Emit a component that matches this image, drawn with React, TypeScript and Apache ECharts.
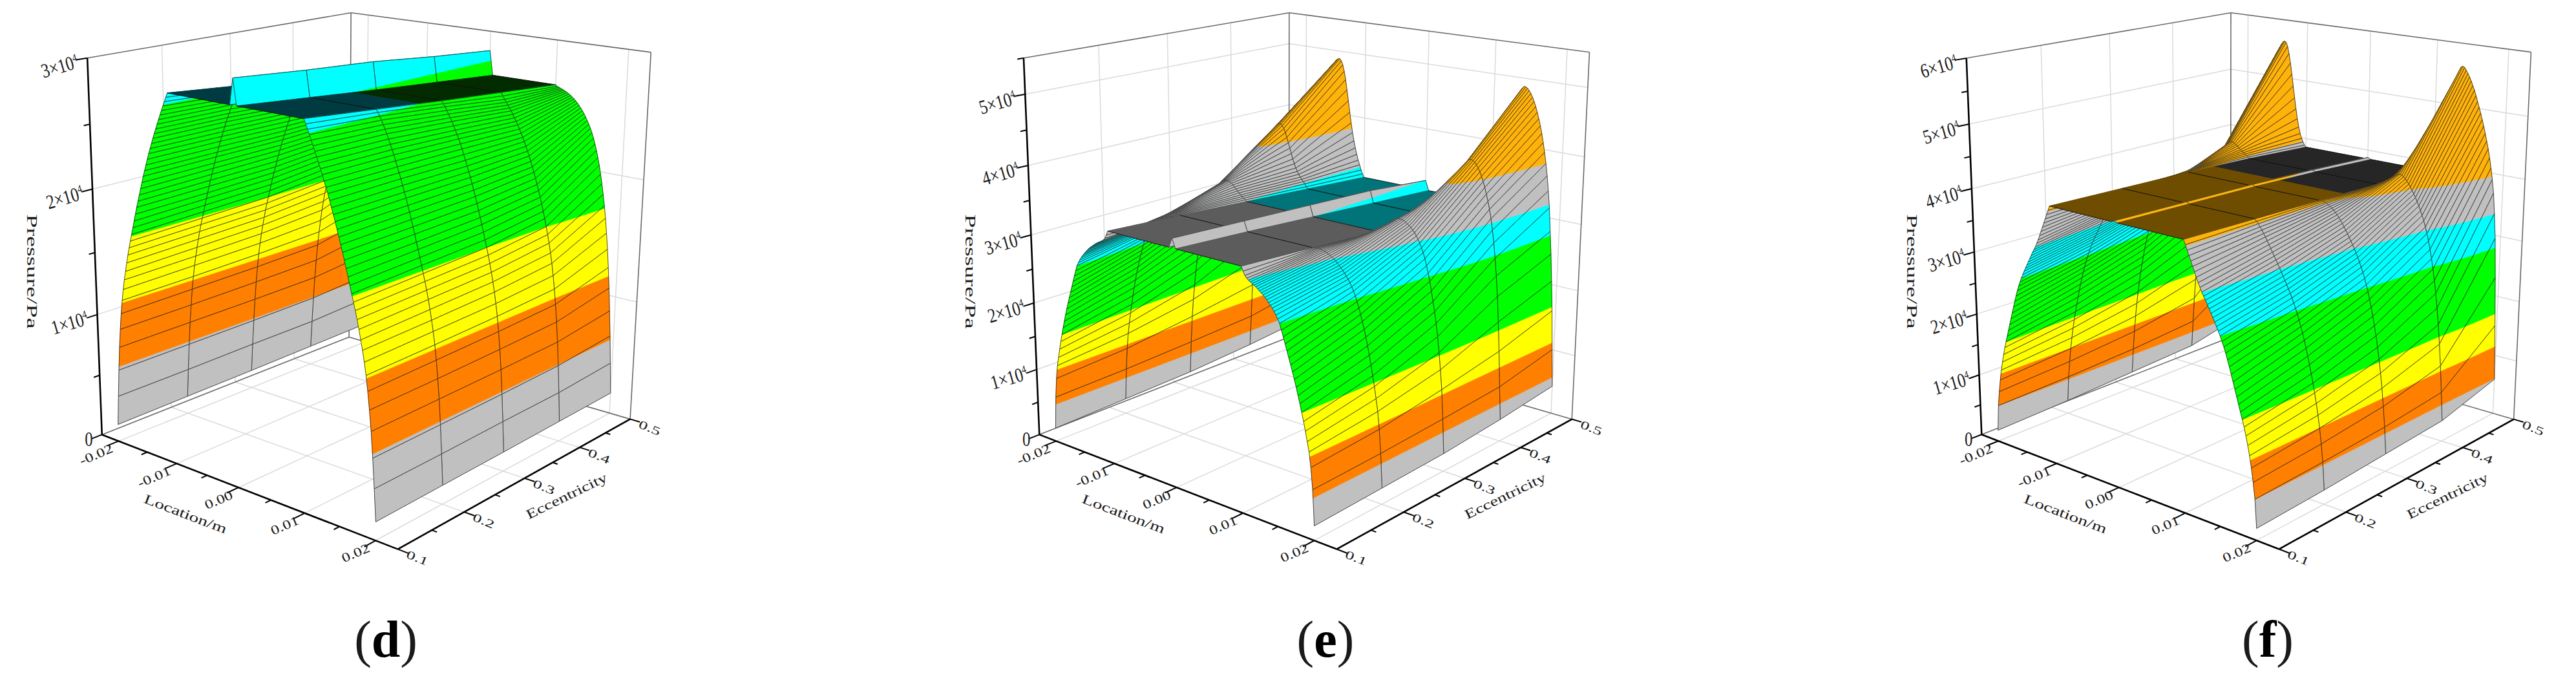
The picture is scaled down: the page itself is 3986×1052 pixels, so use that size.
import React, { useEffect, useRef } from "react";
import * as echarts from "echarts";

const WIDTH = 3986;
const HEIGHT = 1052;
const SERIF = "'Liberation Serif', 'DejaVu Serif', serif";

// distance from the bearing edge (m), one half of the symmetric profile
const edgeDistance = [0, 0.00025, 0.0005, 0.00075, 0.001, 0.00125, 0.0015, 0.00175, 0.002, 0.00225, 0.0025, 0.00275, 0.003, 0.00325, 0.0035, 0.00375, 0.004, 0.00425, 0.0045, 0.00475, 0.005, 0.00525, 0.0055, 0.00575, 0.006, 0.00625, 0.0065, 0.00675, 0.007, 0.00725, 0.0075, 0.00775, 0.008, 0.00825, 0.0085, 0.00875, 0.009, 0.00925, 0.0095, 0.00975, 0.01, 0.0195, 0.02];

const locationTicks = [-0.02, -0.01, 0, 0.01, 0.02];
const locationMinor = [-0.015, -0.005, 0.005, 0.015];
const locationLabels = ["-0.02", "-0.01", "0.00", "0.01", "0.02"];
const eccTicks = [0.1, 0.2, 0.3, 0.4, 0.5];
const eccMinor = [0.15, 0.25, 0.35, 0.45];
const eccLabels = ["0.1", "0.2", "0.3", "0.4", "0.5"];

// panel (d) pressure in Pa
const dEcc1 = [1400, 3800, 6000, 7900, 9400, 10700, 11800, 12700, 13500, 14200, 14900, 15550, 16150, 16700, 17250, 17800, 18350, 18900, 19450, 19950, 20450, 20950, 21450, 21950, 22400, 22850, 23300, 23750, 24150, 24550, 24950, 25330, 25700, 26070, 26430, 26790, 27140, 27490, 27830, 28170, 28500];
const dEcc2 = [1480, 3850, 6050, 7950, 9450, 10800, 11900, 12850, 13650, 14400, 15100, 15750, 16350, 16900, 17450, 18000, 18550, 19050, 19600, 20100, 20600, 21100, 21550, 22050, 22450, 22900, 23350, 23750, 24150, 24550, 24950, 25300, 25650, 26000, 26350, 26650, 26950, 27250, 27500, 27750, 27950];
const dEcc3 = [1550, 3950, 6100, 8000, 9550, 10900, 12050, 13000, 13850, 14600, 15300, 15950, 16550, 17100, 17650, 18200, 18750, 19250, 19750, 20250, 20750, 21200, 21650, 22100, 22500, 22900, 23300, 23700, 24100, 24450, 24800, 25100, 25400, 25700, 26000, 26250, 26500, 26750, 27000, 27200, 27400];
const dEcc4 = [1650, 4000, 6200, 8100, 9700, 11100, 12300, 13350, 14300, 15100, 15850, 16500, 17100, 17700, 18250, 18800, 19300, 19800, 20250, 20700, 21150, 21550, 21950, 22350, 22700, 23050, 23400, 23700, 24000, 24300, 24600, 24850, 25100, 25350, 25600, 25800, 26000, 26200, 26400, 26650, 26900];
const dEcc5 = [1750, 4300, 6600, 8700, 10600, 12300, 13800, 15100, 16300, 17300, 18200, 19050, 19800, 20500, 21100, 21650, 22150, 22600, 23000, 23350, 23650, 23930, 24190, 24430, 24650, 24850, 25030, 25200, 25350, 25490, 25610, 25720, 25820, 25910, 25990, 26060, 26120, 26180, 26240, 26300, 26400];
const dRidge = [30400, 29900, 29500, 28900, 28400];
const dLevels = [6300, 11600, 17100, 27600, 40000];

// panel (e) pressure in Pa
const eEcc1 = [2000, 6800, 9700, 11700, 13000, 14300, 15500, 16600, 17700, 18700, 19700, 20650, 21550, 22400, 23250, 24100, 24950, 25800, 26600, 27400, 27900, 28350, 28750, 29100, 29400, 29700, 30000, 30250, 30500, 30700, 30900, 31100, 31300, 31450, 31600, 31750, 31900, 32100, 32400, 32900, 33500];
const eEcc2 = [2300, 7100, 10400, 12800, 14500, 16100, 17500, 18900, 20200, 21400, 22500, 23500, 24500, 25400, 26200, 27000, 27700, 28300, 28800, 29300, 29700, 30050, 30400, 30700, 31000, 31250, 31500, 31750, 31950, 32150, 32300, 32450, 32580, 32680, 32750, 32800, 32830, 32840, 32830, 32820, 32800];
const eEcc3 = [2600, 7600, 11800, 14600, 17000, 19200, 21000, 22600, 24000, 25400, 26700, 27800, 28800, 29700, 30500, 31100, 31700, 32200, 32600, 33000, 33300, 33600, 33800, 34000, 34200, 34350, 34450, 34500, 34500, 34400, 34250, 34050, 33800, 33550, 33300, 33050, 32800, 32600, 32400, 32200, 32000];
const eEcc4 = [3300, 8200, 13500, 17800, 21500, 24500, 27000, 29200, 31000, 32600, 33900, 35000, 36000, 36900, 37700, 38400, 39000, 39500, 39900, 40200, 40400, 40500, 40500, 40300, 39900, 39300, 38600, 37800, 37000, 36200, 35400, 34700, 34100, 33600, 33200, 32800, 32500, 32200, 31900, 31500, 31200];
const eEcc5 = [4300, 10000, 16000, 20500, 24600, 28000, 31500, 34000, 36200, 38000, 39600, 41000, 42300, 43400, 44400, 45300, 46100, 46800, 47400, 47900, 48300, 48600, 48750, 48800, 48500, 47900, 46900, 45600, 44000, 42300, 40500, 38800, 37300, 36000, 34900, 33900, 33000, 32300, 31500, 30900, 30400];
const eRidge = [34800, 34200, 33600, 33000, 31900];
const eLevels = [5700, 11100, 16600, 27400, 32000, 38000];

// panel (f) pressure in Pa
const fEcc1 = [1800, 6000, 8400, 10400, 12100, 13500, 14800, 16000, 17000, 18000, 19000, 20000, 21000, 22000, 23000, 24000, 24900, 25800, 26600, 27300, 28000, 28600, 29200, 29750, 30300, 30850, 31400, 31950, 32500, 33000, 33500, 34100, 34700, 35400, 36100, 36800, 37500, 38200, 38900, 39600, 40300];
const fEcc2 = [2200, 6400, 9100, 11400, 13300, 15000, 16500, 17900, 19200, 20500, 21700, 22800, 23900, 24900, 25800, 26700, 27500, 28300, 29000, 29700, 30300, 30900, 31450, 32000, 32550, 33100, 33650, 34200, 34700, 35200, 35700, 36200, 36700, 37200, 37700, 38150, 38600, 39000, 39400, 39700, 40000];
const fEcc3 = [2800, 7000, 10200, 13000, 15300, 17400, 19200, 20900, 22400, 23800, 25100, 26300, 27400, 28400, 29300, 30150, 30900, 31600, 32250, 32850, 33450, 34000, 34500, 35000, 35500, 36000, 36450, 36900, 37300, 37700, 38050, 38350, 38650, 38900, 39100, 39300, 39450, 39550, 39650, 39700, 39700];
const fEcc4 = [3400, 8000, 12300, 15800, 18900, 21500, 23800, 25800, 27600, 29200, 30600, 31900, 33000, 34000, 34900, 35700, 36400, 37100, 37700, 38300, 38800, 39300, 39800, 40200, 40600, 40900, 41200, 41400, 41500, 41450, 41300, 41100, 40900, 40650, 40400, 40200, 40000, 39800, 39600, 39400, 39200];
const fEcc5 = [5900, 15000, 23000, 29500, 33500, 36800, 39000, 40800, 42400, 43800, 45000, 46200, 47300, 48300, 49300, 50200, 51100, 52000, 52800, 53500, 54200, 54800, 55300, 55800, 56200, 56350, 56200, 55500, 54300, 52700, 50800, 48800, 46800, 44900, 43200, 41800, 40700, 39900, 39300, 38800, 38500];
const fRidge = [40500, 40200, 39900, 39400, 38750];
const fLevels = [6000, 11500, 17000, 28000, 33500, 39500];

const bandColors = ["#c0c0c0", "#ff8000", "#ffff00", "#00ff00", "#00ffff", "#c0c0c0", "#ffb30a"];
const dDark = ["#c0c0c0", "#ff8000", "#ffff00", "#032b00", "#013b42", "#4f4f4f", "#6e4d00"];
const eDark = ["#c0c0c0", "#ff8000", "#ffff00", "#00ff00", "#007478", "#5c5c5c", "#6e4d00"];
const fDark = ["#c0c0c0", "#ff8000", "#ffff00", "#00ff00", "#007478", "#262626", "#6e4d00"];

type Pt = [number, number];

const panels = [
  {
    name: "d", walls: [dEcc1, dEcc2, dEcc3, dEcc4, dEcc5], ridge: dRidge, levels: dLevels, dark: dDark,
    zMax: 30000, zMajor: [0, 10000, 20000, 30000], zMinor: [5000, 15000, 25000],
    zLabels: ["0", "1×10{s|4}", "2×10{s|4}", "3×10{s|4}"], labelX: 597,
    A: [157, 677] as Pt, B: [616.6, 845] as Pt, C: [974, 654] as Pt, D: [541, 516] as Pt,
    Az: [135, 89] as Pt, Cz: [1007.5, 79] as Pt, Dz: [543, 22] as Pt,
  },
  {
    name: "e", walls: [eEcc1, eEcc2, eEcc3, eEcc4, eEcc5], ridge: eRidge, levels: eLevels, dark: eDark,
    zMax: 55000, zMajor: [0, 10000, 20000, 30000, 40000, 50000], zMinor: [5000, 15000, 25000, 35000, 45000, 55000],
    zLabels: ["0", "1×10{s|4}", "2×10{s|4}", "3×10{s|4}", "4×10{s|4}", "5×10{s|4}"], labelX: 2051,
    A: [1608.5, 677] as Pt, B: [2069, 845] as Pt, C: [2432, 654] as Pt, D: [1994, 516] as Pt,
    Az: [1583, 89] as Pt, Cz: [2459, 79] as Pt, Dz: [1996, 22] as Pt,
  },
  {
    name: "f", walls: [fEcc1, fEcc2, fEcc3, fEcc4, fEcc5], ridge: fRidge, levels: fLevels, dark: fDark,
    zMax: 60000, zMajor: [0, 10000, 20000, 30000, 40000, 50000, 60000], zMinor: [5000, 15000, 25000, 35000, 45000, 55000],
    zLabels: ["0", "1×10{s|4}", "2×10{s|4}", "3×10{s|4}", "4×10{s|4}", "5×10{s|4}", "6×10{s|4}"], labelX: 3509,
    A: [3066, 677] as Pt, B: [3527, 845] as Pt, C: [3889, 654] as Pt, D: [3452, 516] as Pt,
    Az: [3042.5, 89] as Pt, Cz: [3916.6, 79] as Pt, Dz: [3452, 22] as Pt,
  },
];

const LOC_EDGE = 0.023;

function solve(M: number[][], b: number[]) {
  const n = b.length;
  const a = M.map((r, i) => [...r, b[i]]);
  for (let c = 0; c < n; c++) {
    let piv = c;
    for (let r = c + 1; r < n; r++) if (Math.abs(a[r][c]) > Math.abs(a[piv][c])) piv = r;
    [a[c], a[piv]] = [a[piv], a[c]];
    for (let r = 0; r < n; r++) {
      if (r === c) continue;
      const f = a[r][c] / a[c][c];
      for (let k = c; k <= n; k++) a[r][k] -= f * a[c][k];
    }
  }
  return a.map((r, i) => r[n] / r[i]);
}

// camera fitted to the seven visible corners of the axis box
function fitCamera(p: (typeof panels)[number]) {
  const ox = p.A[0];
  const pts: [number, number, number, Pt][] = [
    [0, 0, 0, p.A], [1, 0, 0, p.B], [1, 1, 0, p.C], [0, 1, 0, p.D],
    [0, 0, 1, p.Az], [1, 1, 1, p.Cz], [0, 1, 1, p.Dz],
  ];
  const rows: number[][] = [];
  const rhs: number[] = [];
  for (const [X, Y, Z, [px, py]] of pts) {
    const x = px - ox;
    rows.push([X, Y, Z, 1, 0, 0, 0, 0, -x * X, -x * Y, -x * Z]); rhs.push(x);
    rows.push([0, 0, 0, 0, X, Y, Z, 1, -py * X, -py * Y, -py * Z]); rhs.push(py);
  }
  const n = 11;
  const N = Array.from({ length: n }, () => new Array(n).fill(0));
  const t = new Array(n).fill(0);
  rows.forEach((r, i) => {
    for (let a = 0; a < n; a++) {
      t[a] += r[a] * rhs[i];
      for (let b = 0; b < n; b++) N[a][b] += r[a] * r[b];
    }
  });
  const m = solve(N, t);
  return (u: number, v: number, w: number): Pt => {
    const d = m[8] * u + m[9] * v + m[10] * w + 1;
    return [
      (m[0] * u + m[1] * v + m[2] * w + m[3]) / d + ox,
      (m[4] * u + m[5] * v + m[6] * w + m[7]) / d,
    ];
  };
}

const uOf = (loc: number) => (loc + LOC_EDGE) / (2 * LOC_EDGE);
const vOf = (ecc: number) => (ecc - 0.1) / 0.4;

type P3 = [number, number, number];

function clipBelow(poly: P3[], limit: number, keepBelow: boolean): P3[] {
  const out: P3[] = [];
  const inside = (q: P3) => (keepBelow ? q[2] <= limit : q[2] >= limit);
  for (let i = 0; i < poly.length; i++) {
    const a = poly[i];
    const b = poly[(i + 1) % poly.length];
    const ia = inside(a);
    const ib = inside(b);
    if (ia) out.push(a);
    if (ia !== ib) {
      const t = (limit - a[2]) / (b[2] - a[2]);
      out.push([a[0] + t * (b[0] - a[0]), a[1] + t * (b[1] - a[1]), limit]);
    }
  }
  return out;
}

function lineShape(a: number[], b: number[]) {
  return { x1: a[0], y1: a[1], x2: b[0], y2: b[1] };
}

function surfaceSeries(p: (typeof panels)[number]) {
  const cam = fitCamera(p);
  const half = edgeDistance.map((_, i) => i);
  const order = [...half, ...half.slice(0, -1).reverse()];
  const locOf = (k: number) => (k <= 42 ? -0.02 + edgeDistance[order[k]] : 0.02 - edgeDistance[order[k]]);
  const zOf = (j: number, h: number) => (h <= 40 ? p.walls[j][h] : h === 41 ? p.walls[j][40] : p.ridge[j]);
  const cells: [number, number][] = [];
  for (let k = 0; k < order.length - 1; k++) for (let j = 3; j >= 0; j--) cells.push([k, j]);
  return {
    type: "custom",
    coordinateSystem: "cartesian2d",
    silent: true,
    clip: false,
    progressive: 0,
    data: cells.map((c, i) => [i, 0]),
    renderItem: (params: any, api: any) => {
      const [k, j] = cells[params.dataIndex];
      const h0 = order[k];
      const h1 = order[k + 1];
      const u0 = uOf(locOf(k));
      const u1 = uOf(locOf(k + 1));
      const v0 = j / 4;
      const v1 = (j + 1) / 4;
      const quad: P3[] = [
        [u0, v0, zOf(j, h0)], [u1, v0, zOf(j, h1)], [u1, v1, zOf(j + 1, h1)], [u0, v1, zOf(j + 1, h0)],
      ];
      const toPx = (q: P3) => api.coord(cam(q[0], q[1], q[2] / p.zMax));
      const flat = h0 >= 40 && h1 >= 40 && h0 < 42 && h1 < 42;
      const children: any[] = [];
      for (let b = 0; b < bandColors.length; b++) {
        const lo = b === 0 ? -Infinity : p.levels[b - 1];
        const hi = b < p.levels.length ? p.levels[b] : Infinity;
        if (lo === undefined) break;
        let poly = quad;
        if (isFinite(hi)) poly = clipBelow(poly, hi, true);
        if (isFinite(lo) && poly.length) poly = clipBelow(poly, lo, false);
        if (poly.length < 3) continue;
        const fill = flat ? p.dark[b] : bandColors[b];
        children.push({
          type: "polygon",
          shape: { points: poly.map(toPx) },
          style: { fill, stroke: fill, lineWidth: 0.7 },
        });
      }
      if (flat) {
        children.push({ type: "line", shape: lineShape(toPx(quad[0]), toPx(quad[1])), style: { stroke: "#111", lineWidth: 0.9, fill: "none" } });
        children.push({ type: "line", shape: lineShape(toPx(quad[3]), toPx(quad[2])), style: { stroke: "#111", lineWidth: 0.9, fill: "none" } });
      } else {
        children.push({ type: "polygon", shape: { points: quad.map(toPx) }, style: { fill: "none", stroke: "#1c1c1c", lineWidth: 0.75 } });
      }
      return { type: "group", children };
    },
  };
}

const GRID = { stroke: "#dadada", lineWidth: 1.5 };
const FRAME = { stroke: "#6a6a6a", lineWidth: 1.6 };
const AXIS = { stroke: "#000", lineWidth: 2.6 };
const TICK = { stroke: "#000", lineWidth: 2 };

function frameSeries(p: (typeof panels)[number], front: boolean) {
  const cam = fitCamera(p);
  type Seg = [P3, P3, any];
  const segs: Seg[] = [];
  const zs = p.zMajor.map((z) => z / p.zMax);
  if (!front) {
    const us = locationTicks.map(uOf);
    const vs = [0.2, 0.3, 0.4].map(vOf);
    zs.forEach((w) => {
      if (w <= 0 || w >= 1) return;
      segs.push([[0, 0, w], [0, 1, w], GRID]);
      segs.push([[0, 1, w], [1, 1, w], GRID]);
    });
    vs.forEach((v) => {
      segs.push([[0, v, 0], [0, v, 1], GRID]);
      segs.push([[0, v, 0], [1, v, 0], GRID]);
    });
    us.forEach((u) => {
      segs.push([[u, 1, 0], [u, 1, 1], GRID]);
      segs.push([[u, 0, 0], [u, 1, 0], GRID]);
    });
    segs.push([[0, 0, 1], [0, 1, 1], FRAME]);
    segs.push([[0, 1, 1], [1, 1, 1], FRAME]);
    segs.push([[0, 1, 0], [0, 1, 1], FRAME]);
    segs.push([[1, 1, 0], [1, 1, 1], FRAME]);
    segs.push([[0, 0, 0], [0, 1, 0], FRAME]);
    segs.push([[0, 1, 0], [1, 1, 0], FRAME]);
  } else {
    segs.push([[0, 0, 0], [0, 0, 1], AXIS]);
    segs.push([[0, 0, 0], [1, 0, 0], AXIS]);
    segs.push([[1, 0, 0], [1, 1, 0], AXIS]);
    p.zMajor.forEach((z) => segs.push([[0, 0, z / p.zMax], [0, -0.035, z / p.zMax], TICK]));
    p.zMinor.forEach((z) => segs.push([[0, 0, z / p.zMax], [0, -0.02, z / p.zMax], TICK]));
    locationTicks.forEach((l) => segs.push([[uOf(l), 0, 0], [uOf(l), -0.04, 0], TICK]));
    locationMinor.forEach((l) => segs.push([[uOf(l), 0, 0], [uOf(l), -0.02, 0], TICK]));
    eccTicks.forEach((e) => segs.push([[1, vOf(e), 0], [1.03, vOf(e), 0], TICK]));
    eccMinor.forEach((e) => segs.push([[1, vOf(e), 0], [1.015, vOf(e), 0], TICK]));
  }
  return {
    type: "custom",
    coordinateSystem: "cartesian2d",
    silent: true,
    clip: false,
    progressive: 0,
    data: segs.map((s, i) => [i, 0]),
    renderItem: (params: any, api: any) => {
      const [a, b, style] = segs[params.dataIndex];
      return {
        type: "line",
        shape: lineShape(api.coord(cam(a[0], a[1], a[2])), api.coord(cam(b[0], b[1], b[2]))),
        style: { ...style, fill: "none" },
      };
    },
  };
}

type Label = { text: string; at: Pt; rot: number; align: string; size: number; sx: number; sy?: number; rich?: any };

function labelSeries(p: (typeof panels)[number]) {
  const cam = fitCamera(p);
  const labels: Label[] = [];
  const deg = Math.PI / 180;
  p.zMajor.forEach((z, i) => {
    const t = cam(0, 0, z / p.zMax);
    labels.push({
      text: p.zLabels[i],
      at: i === 0 ? [t[0] - 14, t[1] + 7] : [t[0] - 15, t[1] + 5],
      rot: i === 0 ? 0 : 16 * deg,
      align: "right",
      size: 31,
      sx: 0.8,
      rich: { s: { fontSize: 17, fontFamily: SERIF, verticalAlign: "top", lineHeight: 30, fill: "#1a1a1a" } },
    });
  });
  locationTicks.forEach((l, i) => {
    const t = cam(uOf(l), 0, 0);
    labels.push({ text: locationLabels[i], at: [t[0] - 10, t[1] + 10], rot: 23 * deg, align: "right", size: 20, sx: 1.3 });
  });
  eccTicks.forEach((e, i) => {
    const t = cam(1, vOf(e), 0);
    labels.push({ text: eccLabels[i], at: [t[0] + 14, t[1] + 7], rot: -22 * deg, align: "left", size: 18, sx: 1.55 });
  });
  labels.push({ text: "Location/m", at: [p.A[0] + 130, p.A[1] + 118], rot: -21 * deg, align: "center", size: 21, sx: 1.4 });
  labels.push({ text: "Eccentricity", at: [p.B[0] + 260, p.B[1] - 78], rot: 26 * deg, align: "center", size: 21, sx: 1.35 });
  labels.push({ text: "Pressure/Pa", at: [p.A[0] - 107, p.A[1] - 257], rot: -90 * deg, align: "center", size: 23, sx: 1.65 });
  labels.push({
    text: "({b|" + p.name + "})",
    at: [p.labelX, 989],
    rot: 0,
    align: "center",
    size: 80,
    sx: 1,
    rich: { b: { fontSize: 80, fontWeight: "bold", fontFamily: SERIF, fill: "#000" } },
  });
  return {
    type: "custom",
    coordinateSystem: "cartesian2d",
    silent: true,
    clip: false,
    progressive: 0,
    data: labels.map((l, i) => [i, 0]),
    renderItem: (params: any, api: any) => {
      const l = labels[params.dataIndex];
      const c = api.coord(l.at);
      return {
        type: "text",
        x: c[0],
        y: c[1],
        rotation: l.rot,
        scaleX: l.sx,
        scaleY: l.sy ?? 1,
        style: {
          text: l.text,
          align: l.align,
          verticalAlign: "middle",
          fontFamily: SERIF,
          fontSize: l.size,
          fill: "#1a1a1a",
          rich: l.rich,
        },
      };
    },
  };
}

export default function App() {
  const ref = useRef<HTMLDivElement>(null);
  useEffect(() => {
    document.body.style.margin = "0";
    const chart = echarts.init(ref.current!, undefined, { renderer: "svg" });
    const series: any[] = [];
    panels.forEach((p) => {
      series.push(frameSeries(p, false));
      series.push(surfaceSeries(p));
      series.push(frameSeries(p, true));
      series.push(labelSeries(p));
    });
    chart.setOption({
      animation: false,
      backgroundColor: "#ffffff",
      grid: { left: 0, right: 0, top: 0, bottom: 0 },
      xAxis: { type: "value", min: 0, max: WIDTH, show: false },
      yAxis: { type: "value", min: 0, max: HEIGHT, inverse: true, show: false },
      series,
    });
    return () => chart.dispose();
  }, []);
  return <div ref={ref} style={{ width: WIDTH, height: HEIGHT }} />;
}
